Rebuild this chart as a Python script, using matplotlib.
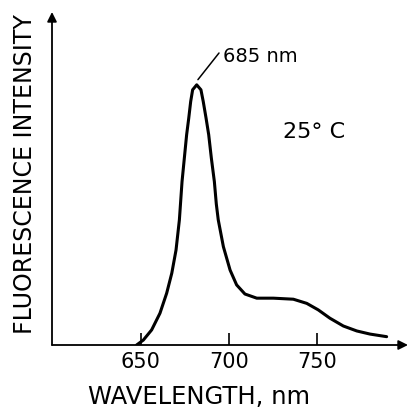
import numpy as np
import matplotlib.pyplot as plt

# spectrum (wavelength nm, relative intensity)
wavelength = [647.8, 651.6, 656.3, 661.0, 664.8, 667.7, 670.1, 672.0, 673.5, 674.8,
              676.1, 677.3, 678.4, 679.5, 681.8, 684.2, 685.5, 687.1, 688.6, 690.1,
              691.8, 692.9, 694.0, 696.9, 700.7, 704.4, 709.1, 715.8, 725.2, 736.5,
              744.1, 750.6, 757.2, 764.8, 772.4, 779.9, 789.3]
intensity = [0.0, 1.9, 5.8, 12.2, 19.9, 27.6, 36.5, 48.1, 62.8, 71.8,
             80.8, 87.2, 93.6, 98.1, 100.0, 98.1, 93.6, 87.2, 80.8, 71.8,
             62.8, 54.2, 48.1, 37.8, 28.8, 23.1, 19.6, 18.0, 18.0, 17.6,
             16.0, 13.5, 10.3, 7.3, 5.4, 4.2, 3.2]
xticks = [650, 700, 750]

W, H = 410, 408
fig = plt.figure(figsize=(W / 100, H / 100), dpi=100)
ax = fig.add_axes([52 / W, (H - 345) / H, (408 - 52) / W, (345 - 12) / H])
ax.set_xlim(599.9, 801.4)
ax.set_ylim(0, 128)

ax.plot(wavelength, intensity, color='black', lw=2.2,
        solid_capstyle='round', solid_joinstyle='round')

for s in ax.spines.values():
    s.set_visible(False)

# axes as arrows
ax.annotate('', xy=(1, 0), xytext=(0, 0), xycoords='axes fraction',
            arrowprops=dict(arrowstyle='-|>', color='black', lw=1.3, mutation_scale=14,
                            shrinkA=0, shrinkB=0))
ax.annotate('', xy=(0, 1), xytext=(0, 0), xycoords='axes fraction',
            arrowprops=dict(arrowstyle='-|>', color='black', lw=1.3, mutation_scale=14,
                            shrinkA=0, shrinkB=0))

ax.set_xticks(xticks)
ax.set_xticklabels([str(t) for t in xticks])
ax.set_yticks([])
ax.tick_params(axis='x', direction='in', length=9, width=1.2, pad=5, labelsize=15)

fig.text(25 / W, 1 - 174 / H, 'FLUORESCENCE INTENSITY', rotation=90,
         ha='center', va='center', fontsize=17)
fig.text(199 / W, 1 - 397 / H, 'WAVELENGTH, nm', ha='center', va='center', fontsize=17.5)

# peak label with leader line
ax.annotate('', xy=(682.5, 102), xytext=(219, H - 53), textcoords='figure pixels',
            arrowprops=dict(arrowstyle='-', color='black', lw=1.1, shrinkA=0, shrinkB=0))
fig.text(223 / W, 1 - 57 / H, '685 nm', ha='left', va='center', fontsize=14)
fig.text(314 / W, 1 - 132 / H, '25° C', ha='center', va='center', fontsize=16)

fig.savefig('out.png', dpi=100)
